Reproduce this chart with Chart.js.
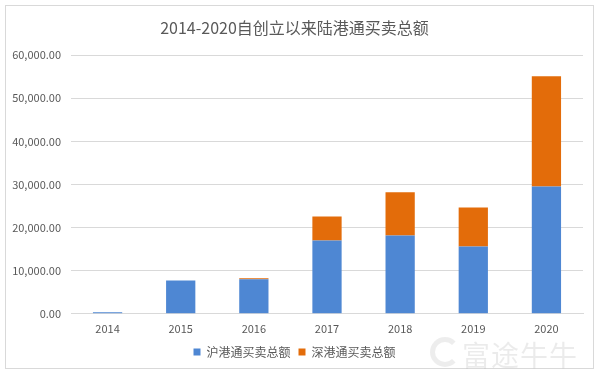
<!DOCTYPE html>
<html>
<head>
<meta charset="utf-8">
<script src="https://cdn.jsdelivr.net/npm/chart.js@4/dist/chart.umd.min.js"></script>
<style>
  html, body { margin: 0; padding: 0; background: #fff; }
  #wrap { position: absolute; left: 5px; top: 5px; width: 589px; height: 364px; border: 1px solid #d9d9d9; box-sizing: border-box; }
  #mark { position: absolute; left: 462px; top: 334px; font: 28px "Noto Sans CJK SC", sans-serif; color: rgba(0,0,0,0.08); pointer-events: none; letter-spacing: 1px; }
  #logo { position: absolute; left: 430px; top: 337px; width: 20px; height: 20px; border: 5px solid rgba(0,0,0,0.07); border-radius: 50%; border-right-color: transparent; pointer-events: none; }
</style>
</head>
<body>
<div id="wrap"><canvas id="c" width="587" height="362"></canvas></div>
<div id="logo"></div>
<div id="mark">富途牛牛</div>
<script>
"use strict";

const years = ["2014", "2015", "2016", "2017", "2018", "2019", "2020"];
const shTotal = [370, 7730, 8000, 17000, 18170, 15600, 29540];
const szTotal = [0, 0, 260, 5580, 10030, 9060, 25590];
const yTicks = [0, 10000, 20000, 30000, 40000, 50000, 60000];

const FONT = "'Noto Sans CJK SC', 'Noto Sans', sans-serif";
const money = (v) => Number(v).toLocaleString("en-US", { minimumFractionDigits: 2, maximumFractionDigits: 2 });

new Chart(document.getElementById("c"), {
  type: "bar",
  data: {
    labels: years,
    datasets: [
      { label: "沪港通买卖总额", data: shTotal, backgroundColor: "#4e87d3", stack: "s" },
      { label: "深港通买卖总额", data: szTotal, backgroundColor: "#e36c0a", stack: "s" },
    ],
  },
  options: {
    responsive: false,
    animation: false,
    layout: { padding: { top: 0, right: 10, bottom: 0, left: 0 } },
    datasets: { bar: { barPercentage: 0.4, categoryPercentage: 1 } },
    plugins: {
      title: {
        display: true,
        text: "2014-2020自创立以来陆港通买卖总额",
        color: "#595959",
        font: { family: FONT, size: 16, weight: "normal" },
        padding: { top: 12, bottom: 18 },
      },
      legend: {
        position: "bottom",
        labels: { color: "#595959", font: { family: FONT, size: 12 }, boxWidth: 7, boxHeight: 7, padding: 8 },
      },
      tooltip: { enabled: false },
    },
    scales: {
      x: {
        stacked: true,
        grid: { display: false },
        border: { color: "#d9d9d9" },
        afterFit: (s) => { s.height += 3; },
        ticks: { color: "#595959", font: { family: FONT, size: 11 }, padding: 0 },
      },
      y: {
        stacked: true,
        min: 0,
        max: 60000,
        afterBuildTicks: (s) => { s.ticks = yTicks.map((v) => ({ value: v })); },
        afterFit: (s) => { s.width = 65; },
        grid: { color: "#d9d9d9", drawTicks: false },
        border: { display: false },
        ticks: { color: "#595959", font: { family: FONT, size: 11 }, padding: 10, callback: (v) => money(v) },
      },
    },
  },
});
</script>
</body>
</html>
